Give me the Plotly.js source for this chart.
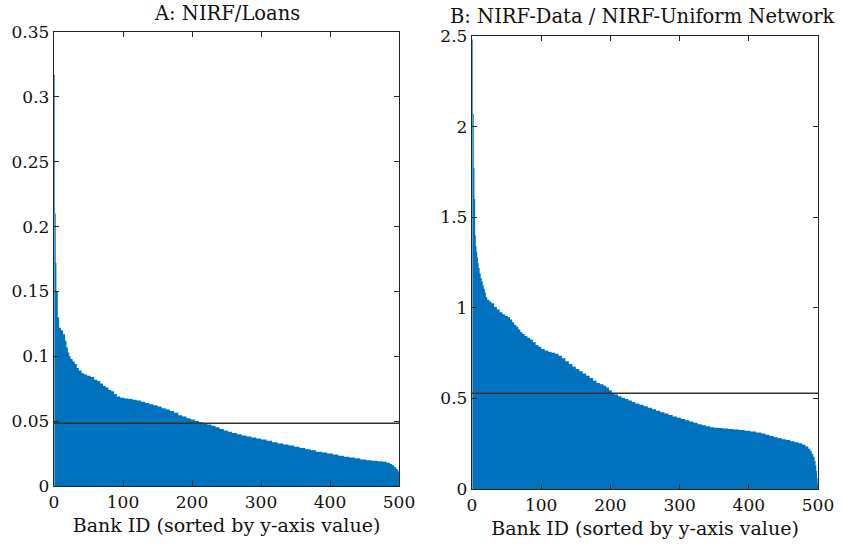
<!DOCTYPE html>
<html>
<head>
<meta charset="utf-8">
<script src="https://cdn.plot.ly/plotly-3.0.1.min.js"></script>
<style>html,body{margin:0;padding:0;background:#fff;}#chart{width:843px;height:546px;}</style>
</head>
<body>
<div id="chart"></div>
<script>
// Panel A: NIRF/Loans, banks sorted by value (bank ID where a run of similar values starts, value)
const bankA = [0.5,1.5,2.5,3.5,5.5,7.5,10,13,16,18,
  20,22,24,27,30,33,36,40,44,48,
  53,58,63,67,71,75,79,83,87,91,
  96,102,108,114,120,126,132,138,144,150,
  156,162,168,174,180,186,192,198,204,210,
  216,222,228,234,240,246,252,258,265,272,
  279,286,293,300,308,316,324,332,340,348,
  356,364,372,380,388,396,404,412,420,428,
  436,444,452,460,468,476,482,487,490,493,
  496,498,499.5,500.5];
const valA = [0.317,0.21,0.172,0.150,0.130,0.122,0.120,0.117,0.112,0.107,
  0.103,0.100,0.098,0.096,0.094,0.091,0.089,0.087,0.086,0.085,
  0.084,0.082,0.081,0.079,0.077,0.076,0.074,0.073,0.071,0.069,
  0.068,0.0675,0.067,0.0665,0.066,0.065,0.064,0.063,0.0622,0.0612,
  0.0600,0.0590,0.0578,0.0565,0.0545,0.0535,0.0522,0.0512,0.0502,0.0492,
  0.0485,0.0475,0.0465,0.0452,0.0440,0.0428,0.0418,0.0408,0.0398,0.0390,
  0.0382,0.0374,0.0366,0.0358,0.0348,0.0338,0.0328,0.0320,0.0312,0.0302,
  0.0292,0.0284,0.0276,0.0265,0.0258,0.0250,0.0242,0.0234,0.0226,0.0220,
  0.0213,0.0205,0.0199,0.0194,0.0190,0.0186,0.0180,0.0170,0.0160,0.0145,
  0.0132,0.0120,0.0105,0.0105];
const meanA = 0.0483;

// Panel B: NIRF-Data / NIRF-Uniform Network
const bankB = [0.5,1.5,2.5,3.5,4.5,5.5,6.5,7.5,8.5,9.5,
  11,12.5,14,15.5,17,18.5,20,22,25,28,
  32,36,40,44,48,52,55,58,61,64,
  67,70,73,76,80,84,88,92,96,100,
  105,110,115,120,125,130,135,140,145,150,
  155,160,165,170,175,180,185,190,194,198,
  202,206,211,216,221,226,231,236,242,248,
  254,260,266,272,278,284,290,296,302,308,
  314,320,326,332,338,344,350,356,362,370,
  378,386,394,402,410,418,424,430,436,442,
  448,454,460,466,472,477,482,486,489,491,
  493,495,496.5,497.5,498.5,499.5,500.5];
const valB = [2.48,2.07,1.77,1.60,1.40,1.34,1.31,1.28,1.25,1.22,
  1.19,1.165,1.145,1.125,1.105,1.085,1.06,1.045,1.035,1.025,
  1.005,0.99,0.975,0.965,0.955,0.948,0.935,0.92,0.905,0.895,
  0.88,0.865,0.855,0.845,0.835,0.825,0.81,0.795,0.785,0.772,
  0.765,0.758,0.752,0.746,0.735,0.722,0.705,0.69,0.675,0.662,
  0.65,0.638,0.625,0.612,0.598,0.585,0.578,0.570,0.560,0.545,
  0.530,0.522,0.512,0.503,0.496,0.488,0.480,0.472,0.465,0.457,
  0.448,0.440,0.432,0.424,0.416,0.408,0.400,0.393,0.386,0.379,
  0.372,0.365,0.358,0.352,0.346,0.341,0.338,0.336,0.334,0.331,
  0.328,0.325,0.321,0.317,0.312,0.306,0.299,0.292,0.286,0.280,
  0.275,0.270,0.264,0.258,0.252,0.244,0.234,0.222,0.208,0.195,
  0.178,0.155,0.130,0.100,0.060,0.025,0.025];
const meanB = 0.529;

const xTicks = [0,100,200,300,400,500];
const yTicksA = [0,0.05,0.1,0.15,0.2,0.25,0.3,0.35];
const yTickTextA = ['0','0.05','0.1','0.15','0.2','0.25','0.3','0.35'];
const yTicksB = [0,0.5,1,1.5,2,2.5];
const yTickTextB = ['0','0.5','1','1.5','2','2.5'];
const titleA = 'A: NIRF/Loans';
const titleB = 'B: NIRF-Data / NIRF-Uniform Network';
const xLabel = 'Bank ID (sorted by y-axis value)';

const FONT = 'DejaVu Serif, Liberation Serif, serif';
const BLUE = '#0072BD';
const AX = '#262626';

const traces = [
  {x: bankA, y: valA, xaxis:'x', yaxis:'y', type:'scatter', mode:'lines',
   line:{shape:'hv', width:0, color:BLUE}, fill:'tozeroy', fillcolor:BLUE, hoverinfo:'skip'},
  {x: [0,500], y: [meanA, meanA], xaxis:'x', yaxis:'y', type:'scatter', mode:'lines',
   line:{color:'#333333', width:1.5}},
  {x: bankB, y: valB, xaxis:'x2', yaxis:'y2', type:'scatter', mode:'lines',
   line:{shape:'hv', width:0, color:BLUE}, fill:'tozeroy', fillcolor:BLUE, hoverinfo:'skip'},
  {x: [0,500], y: [meanB, meanB], xaxis:'x2', yaxis:'y2', type:'scatter', mode:'lines',
   line:{color:'#333333', width:1.5}}
];

function xa(domain, anchor){
  return {domain: domain, anchor: anchor, range:[0,500], tickvals:xTicks, ticktext:xTicks.map(String),
    ticks:'inside', ticklen:5, tickcolor:AX, showline:true, linecolor:AX, linewidth:1.2, mirror:'ticks',
    showgrid:false, zeroline:false, tickfont:{family:FONT, size:17, color:'#111'},
    title:{text:xLabel, font:{family:FONT, size:19, color:'#111'}, standoff:8}};
}
function ya(domain, anchor, rng, tv, tt){
  return {domain: domain, anchor: anchor, range:rng, tickvals:tv, ticktext:tt,
    ticks:'inside', ticklen:5, tickcolor:AX, showline:true, linecolor:AX, linewidth:1.2, mirror:'ticks',
    showgrid:false, zeroline:false, tickfont:{family:FONT, size:17, color:'#111'}};
}

const layout = {
  width:843, height:546, margin:{l:0,r:0,t:0,b:0}, showlegend:false,
  paper_bgcolor:'#fff', plot_bgcolor:'#fff',
  xaxis: xa([54/843, 399/843], 'y'),
  yaxis: ya([1-486/546, 1-32/546], 'x', [0,0.35], yTicksA, yTickTextA),
  xaxis2: xa([472/843, 818/843], 'y2'),
  yaxis2: ya([1-489/546, 1-36/546], 'x2', [0,2.5], yTicksB, yTickTextB),
  annotations: [
    {text:titleA, xref:'paper', yref:'paper', x:227/843, y:1-13/546, xanchor:'center', yanchor:'middle',
     showarrow:false, font:{family:FONT, size:19.5, color:'#111'}},
    {text:titleB, xref:'paper', yref:'paper', x:642/843, y:1-16/546, xanchor:'center', yanchor:'middle',
     showarrow:false, font:{family:FONT, size:19.5, color:'#111'}}
  ]
};

Plotly.newPlot('chart', traces, layout, {staticPlot:true, displayModeBar:false});
</script>
</body>
</html>
